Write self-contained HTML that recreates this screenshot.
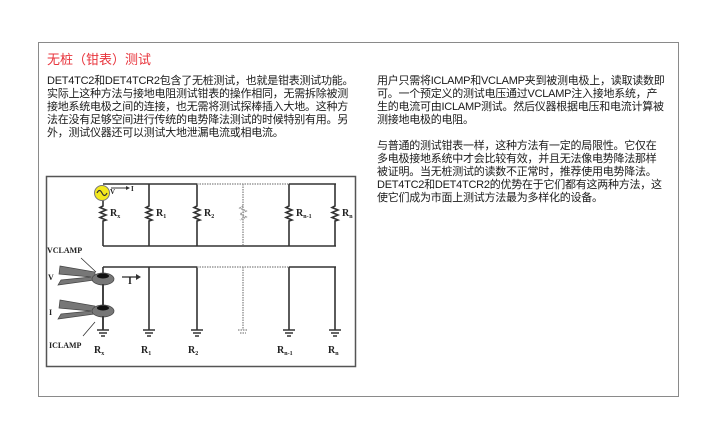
<!DOCTYPE html>
<html><head><meta charset="utf-8"><style>
html,body{margin:0;padding:0;background:#fff;}
body{width:715px;height:445px;position:relative;overflow:hidden;font-family:"Liberation Sans","Noto Sans CJK SC",sans-serif;}
.frame{position:absolute;left:38px;top:42px;width:641px;height:355px;border:1.5px solid #8a8a8a;border-left-width:1.5px;box-sizing:border-box;}
.title{position:absolute;left:47px;top:52px;font-size:13px;color:#e8343c;line-height:16px;}
.p{position:absolute;font-size:11px;line-height:13px;color:#1a1a1a;white-space:nowrap;letter-spacing:-0.25px;}
</style></head><body>
<div class="frame"></div>
<div class="title">无桩（钳表）测试</div>
<div class="p" style="left:47px;top:75px;">DET4TC2和DET4TCR2包含了无桩测试，也就是钳表测试功能。<br>实际上这种方法与接地电阻测试钳表的操作相同，无需拆除被测<br>接地系统电极之间的连接，也无需将测试探棒插入大地。这种方<br>法在没有足够空间进行传统的电势降法测试的时候特别有用。另<br>外，测试仪器还可以测试大地泄漏电流或相电流。</div>
<div class="p" style="left:377px;top:75px;">用户只需将ICLAMP和VCLAMP夹到被测电极上，读取读数即<br>可。一个预定义的测试电压通过VCLAMP注入接地系统，产<br>生的电流可由ICLAMP测试。然后仪器根据电压和电流计算被<br>测接地电极的电阻。</div>
<div class="p" style="left:377px;top:140px;">与普通的测试钳表一样，这种方法有一定的局限性。它仅在<br>多电极接地系统中才会比较有效，并且无法像电势降法那样<br>被证明。当无桩测试的读数不正常时，推荐使用电势降法。<br>DET4TC2和DET4TCR2的优势在于它们都有这两种方法，这<br>使它们成为市面上测试方法最为多样化的设备。</div>
<svg style="position:absolute;left:0;top:0" width="715" height="445" xmlns="http://www.w3.org/2000/svg">
<rect x="46.5" y="176.5" width="309" height="190" fill="#fff" stroke="#555" stroke-width="1.5"/>
<g stroke="#333" stroke-width="1.6" fill="none">
<path d="M103 184H197M289 184H336M103 246H336"/>
<path d="M103 267H197M289 267H336"/>
<path d="M103 200V206l-3 1.5 6 2.5-6 2.5 6 2.5-6 2.5 6 2.5-3 1V246"/>
<path d="M149 184V206l-3 1.5 6 2.5-6 2.5 6 2.5-6 2.5 6 2.5-3 1V246"/>
<path d="M197 184V206l-3 1.5 6 2.5-6 2.5 6 2.5-6 2.5 6 2.5-3 1V246"/>
<path d="M289 184V206l-3 1.5 6 2.5-6 2.5 6 2.5-6 2.5 6 2.5-3 1V246"/>
<path d="M335 184V206l-3 1.5 6 2.5-6 2.5 6 2.5-6 2.5 6 2.5-3 1V246"/>
<path d="M103 267V330M149 267V330M197 267V330M289 267V330M335 267V330"/>
<path d="M97 330H109M99 333H107M101 336H105"/>
<path d="M143 330H155M145 333H153M147 336H151"/>
<path d="M191 330H203M193 333H201M195 336H199"/>
<path d="M283 330H295M285 333H293M287 336H291"/>
<path d="M329 330H341M331 333H339M333 336H337"/>
</g>
<g stroke="#999" stroke-width="1.5" stroke-dasharray="1.5 1" fill="none">
<path d="M197 184H289M197 267H289M243 184V246M243 267V330M238 330H248M240 333H246"/>
<path d="M243 206l-3 2 6 3-6 3 6 3-6 3"/>
</g>
<circle cx="102" cy="193" r="7.5" fill="#f3e81e" stroke="#777" stroke-width="1"/>
<path d="M97 193q2.5-5 5 0t5 0" stroke="#333" fill="none" stroke-width="1.2"/>
<path d="M111 188H126" stroke="#333" stroke-width="1"/><path d="M126 186l4 2-4 2z" fill="#333"/>
<path d="M122 277H136" stroke="#333" stroke-width="1.3"/><path d="M136 274l5 3-5 3z" fill="#333"/>
<g fill="#777" stroke="#444" stroke-width="0.7">
<path d="M60 266l35 6 0 8-37 5 3-5 30-3-32-3z"/>
<ellipse cx="103" cy="279" rx="11" ry="6"/>
<path d="M60 300l35 6 0 8-37 5 3-5 30-3-32-3z"/>
<ellipse cx="103" cy="311" rx="11" ry="6"/>
</g>
<ellipse cx="103" cy="276" rx="6" ry="2.5" fill="#111"/>
<ellipse cx="103" cy="308" rx="6" ry="2.5" fill="#111"/>
<path d="M103 284V306M103 316V330" stroke="#333" stroke-width="1.6"/>
<path d="M81 258l15 14M83 336l12-14" stroke="#333" stroke-width="0.8"/>
<g font-family="Liberation Serif,serif" font-weight="bold" fill="#222">
<text x="47" y="253" font-size="8">VCLAMP</text>
<text x="48" y="280" font-size="8">V</text>
<text x="49" y="315" font-size="8">I</text>
<text x="49" y="348" font-size="8">ICLAMP</text>
<text x="110" y="194" font-size="7">V</text>
<text x="131" y="191" font-size="7">I</text>
<text x="128" y="284" font-size="10">I</text>
<text x="110" y="216" font-size="10">R<tspan font-size="6" dy="2">x</tspan></text>
<text x="156" y="216" font-size="10">R<tspan font-size="6" dy="2">1</tspan></text>
<text x="204" y="216" font-size="10">R<tspan font-size="6" dy="2">2</tspan></text>
<text x="296" y="216" font-size="10">R<tspan font-size="6" dy="2">n-1</tspan></text>
<text x="342" y="216" font-size="10">R<tspan font-size="6" dy="2">n</tspan></text>
<text x="94" y="353" font-size="10">R<tspan font-size="6" dy="2">x</tspan></text>
<text x="141" y="353" font-size="10">R<tspan font-size="6" dy="2">1</tspan></text>
<text x="188" y="353" font-size="10">R<tspan font-size="6" dy="2">2</tspan></text>
<text x="277" y="353" font-size="10">R<tspan font-size="6" dy="2">n-1</tspan></text>
<text x="328" y="353" font-size="10">R<tspan font-size="6" dy="2">n</tspan></text>
</g>
</svg>
</body></html>
